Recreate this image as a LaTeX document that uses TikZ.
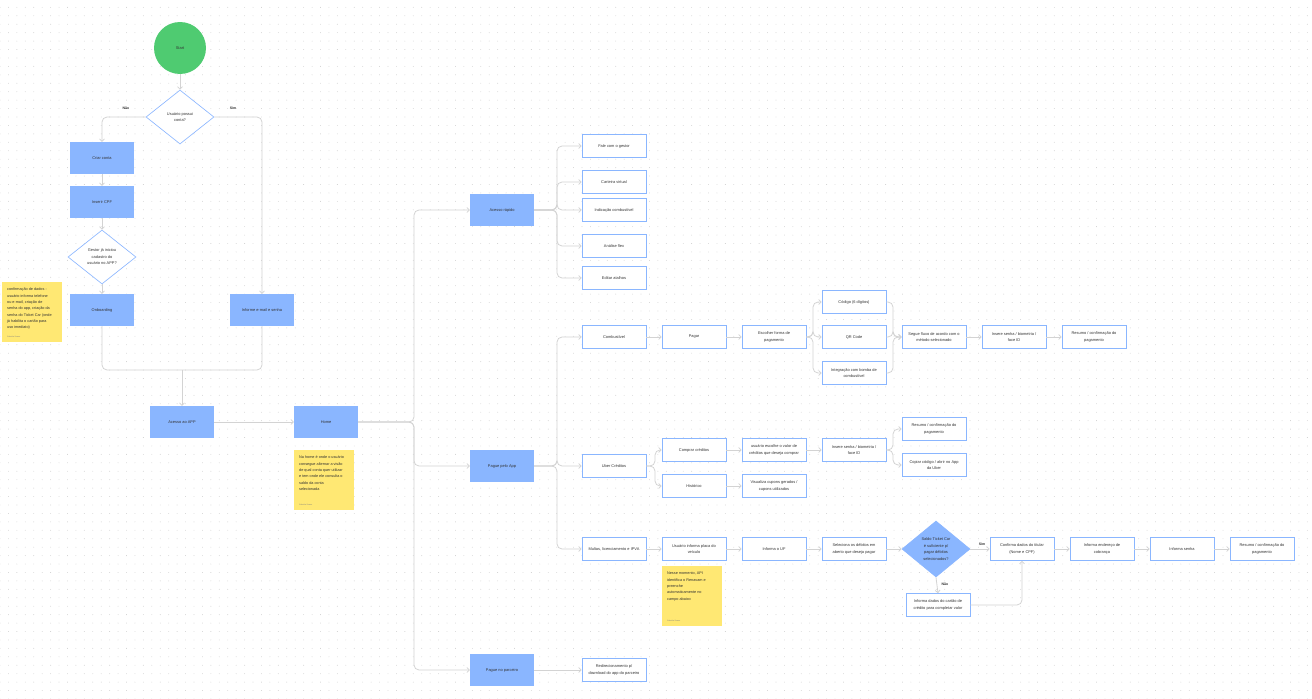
\documentclass[tikz,border=0pt]{standalone}
\usepackage{fontspec}
\setmainfont{Liberation Sans}
\usetikzlibrary{shapes.geometric,patterns.meta,arrows.meta}
\definecolor{boxblue}{HTML}{8AB6FF}
\definecolor{startgreen}{HTML}{4FCB71}
\definecolor{stickyyellow}{HTML}{FFE873}
\definecolor{conngray}{HTML}{D3D3D3}
\definecolor{txtgray}{HTML}{333333}
\tikzset{every node/.style={font=\fontsize{5.6}{9.2}\selectfont, text=txtgray, align=center}}
\tikzset{
  startnode/.style={circle, fill=startgreen, minimum size=2.6cm, inner sep=0},
  bigbox/.style={rectangle, fill=boxblue, minimum width=3.2cm, minimum height=1.6cm, inner sep=1pt},
  smallbox/.style={rectangle, draw=boxblue, fill=white, line width=0.9pt, minimum width=3.2cm, minimum height=1.15cm, inner sep=1pt},
  decision/.style={diamond, draw=boxblue, fill=white, line width=0.9pt, minimum width=3.4cm, minimum height=2.7cm, inner sep=0},
  sticky/.style={rectangle, fill=stickyyellow, minimum width=3cm, minimum height=3cm, anchor=north west, inner sep=0},
  notetext/.style={anchor=north west, align=left, inner sep=0, font=\fontsize{5.4}{9}\selectfont},
  noteauthor/.style={anchor=south west, inner sep=0, text=gray, font=\fontsize{2.6}{3}\selectfont},
  conn/.style={draw=conngray, line width=1.1pt, rounded corners=0.25cm},
  branchlabel/.style={font=\fontsize{5}{6}\selectfont\bfseries, inner sep=0}
}

\begin{document}
\begin{tikzpicture}[x=0.05cm, y=-0.05cm, >={Straight Barb[length=3.5pt,width=7pt]}]
  % fundo pontilhado
  \useasboundingbox (0,0) rectangle (1312,699);
  \fill[white] (0,0) rectangle (1312,699);
  \fill[pattern={Dots[distance=12pt, radius=0.6pt]}, pattern color=gray!40] (0,0) rectangle (1312,699);

  % cadastro
  \node[startnode] (start) at (180,48) {Start};
  \node[decision] (q1) at (180,117) {Usuário possui\\conta?};
  \node[bigbox] (criar) at (102,158) {Criar conta};
  \node[bigbox] (cpf) at (102,202) {Inserir CPF};
  \node[decision] (q2) at (102,257) {Gestor já iniciou\\cadastro do\\usuário no APP?};
  \node[bigbox] (onb) at (102,310) {Onboarding};
  \node[bigbox] (inf) at (262,310) {Informe e-mail e senha};
  \node[branchlabel] (nao1) at (126,108) {Não};
  \node[branchlabel] (sim1) at (233,108) {Sim};

  \node[sticky] (note1) at (2,282) {};
  \node[notetext] (note1txt) at ([shift={(5,6)}]note1.north west)
    {confirmação de dados -\\usuário informa telefone\\ou e-mail, criação de\\senha do app, criação da\\senha do Ticket Car (onde\\já habilita o cartão para\\uso imediato)};
  \node[noteauthor] (note1aut) at ([shift={(5,-5)}]note1.south west) {Gabriela Soares};

  \node[bigbox] (acesso) at (182,422) {Acesso ao APP};
  \node[bigbox] (home) at (326,422) {Home};
  \node[sticky] (note2) at (294,450) {};
  \node[notetext] (note2txt) at ([shift={(5,6)}]note2.north west)
    {Na home é onde o usuário\\consegue alternar a visão\\de qual conta quer utilizar\\e tem onde ele consulta o\\saldo da conta\\selecionada};
  \node[noteauthor] (note2aut) at ([shift={(5,-5)}]note2.south west) {Gabriela Soares};

  % menus da home
  \node[bigbox] (rapido) at (502,210) {Acesso rápido};
  \node[bigbox] (pelo) at (502,466) {Pague pelo App};
  \node[bigbox] (parceiro) at (502,670) {Pague no parceiro};

  \node[smallbox] (fale) at (614,146) {Fale com o gestor};
  \node[smallbox] (carteira) at (614,182) {Carteira virtual};
  \node[smallbox] (indic) at (614,210) {Indicação combustível};
  \node[smallbox] (analise) at (614,246) {Análise flex};
  \node[smallbox] (editar) at (614,278) {Editar atalhos};

  % combustivel
  \node[smallbox] (comb) at (614,337) {Combustível};
  \node[smallbox] (pagar) at (694,337) {Pagar};
  \node[smallbox] (escolher) at (774,337) {Escolher forma de\\pagamento};
  \node[smallbox] (codigo) at (854,302) {Código (6 dígitos)};
  \node[smallbox] (qr) at (854,337) {QR Code};
  \node[smallbox] (bomba) at (854,373) {Integração com bomba de\\combustível};
  \node[smallbox] (segue) at (934,337) {Segue fluxo de acordo com o\\método selecionado};
  \node[smallbox] (senhaA) at (1014,337) {Insere senha / biometria /\\face ID};
  \node[smallbox] (resumoA) at (1094,337) {Resumo / confirmação do\\pagamento};

  % uber
  \node[smallbox] (uber) at (614,466) {Uber Créditos};
  \node[smallbox] (comprar) at (694,450) {Comprar créditos};
  \node[smallbox] (hist) at (694,486) {Histórico};
  \node[smallbox] (valor) at (774,450) {usuário escolhe o valor de\\créditos que deseja comprar};
  \node[smallbox] (cupons) at (774,486) {Visualiza cupons gerados /\\cupons utilizados};
  \node[smallbox] (senhaB) at (854,450) {Insere senha / biometria /\\face ID};
  \node[smallbox] (resumoB) at (934,429) {Resumo / confirmação do\\pagamento};
  \node[smallbox] (copiar) at (934,465) {Copiar código / abrir no App\\da Uber};

  % multas
  \node[smallbox] (multas) at (614,549) {Multas, licenciamento e IPVA};
  \node[smallbox] (placa) at (694,549) {Usuário informa placa do\\veículo};
  \node[smallbox] (uf) at (774,549) {Informa o UF};
  \node[smallbox] (debitos) at (854,549) {Seleciona os débitos em\\aberto que deseja pagar};
  \node[decision, fill=boxblue, minimum height=2.8cm] (q3) at (936,549) {Saldo Ticket Car\\é suficiente p/\\pagar débitos\\selecionados?};
  \node[smallbox] (titular) at (1022,549) {Confirma dados do titular\\(Nome e CPF)};
  \node[smallbox] (endereco) at (1102,549) {Informa endereço de\\cobrança};
  \node[smallbox] (isenha) at (1182,549) {Informa senha};
  \node[smallbox] (resumoC) at (1262,549) {Resumo / confirmação do\\pagamento};
  \node[smallbox] (cartao) at (938,605) {Informa dados do cartão de\\crédito para completar valor};
  \node[branchlabel] (sim3) at (982,544) {Sim};
  \node[branchlabel] (nao3) at (945,584) {Não};

  \node[sticky] (note3) at (662,566) {};
  \node[notetext] (note3txt) at ([shift={(5,6)}]note3.north west)
    {Nesse momento, API\\identifica o Renavam e\\preenche\\automaticamente no\\campo abaixo};
  \node[noteauthor] (note3aut) at ([shift={(5,-5)}]note3.south west) {Gabriela Soares};

  \node[smallbox] (redir) at (614,670) {Redirecionamento p/\\download do app do parceiro};

  % pontos de ramificacao
  \coordinate (amerge) at (182,370);
  \coordinate (hsplit) at (414,422);
  \coordinate (rsplit) at (557,210);
  \coordinate (psplit) at (557,466);
  \coordinate (esplit) at (813,337);
  \coordinate (cmerge) at (893,337);
  \coordinate (usplit) at (655,466);
  \coordinate (ssplit) at (893,450);

  % conectores
  \draw[conn,->] (start) -- (q1);
  \draw[conn,->] (q1.west) -| (criar.north);
  \draw[conn,->] (q1.east) -| (inf.north);
  \draw[conn,->] (criar) -- (cpf);
  \draw[conn,->] (cpf) -- (q2);
  \draw[conn,->] (q2) -- (onb);
  \draw[conn] (onb.south) |- (amerge);
  \draw[conn] (inf.south) |- (amerge);
  \draw[conn,->] (amerge) -- (acesso.north);
  \draw[conn,->] (acesso) -- (home);

  \foreach \n in {rapido,pelo,parceiro}
    \draw[conn,->] (home.east) -- (hsplit) |- (\n.west);
  \foreach \n in {fale,carteira,indic,analise,editar}
    \draw[conn,->] (rapido.east) -- (rsplit) |- (\n.west);
  \foreach \n in {comb,uber,multas}
    \draw[conn,->] (pelo.east) -- (psplit) |- (\n.west);

  \draw[conn,->] (comb) -- (pagar);
  \draw[conn,->] (pagar) -- (escolher);
  \foreach \n in {codigo,qr,bomba}{
    \draw[conn,->] (escolher.east) -- (esplit) |- (\n.west);
    \draw[conn,->] (\n.east) -| (cmerge) -- (segue.west);
  }
  \draw[conn,->] (segue) -- (senhaA);
  \draw[conn,->] (senhaA) -- (resumoA);

  \foreach \n in {comprar,hist}
    \draw[conn,->] (uber.east) -- (usplit) |- (\n.west);
  \draw[conn,->] (comprar) -- (valor);
  \draw[conn,->] (hist) -- (cupons);
  \draw[conn,->] (valor) -- (senhaB);
  \foreach \n in {resumoB,copiar}
    \draw[conn,->] (senhaB.east) -- (ssplit) |- (\n.west);

  \draw[conn,->] (multas) -- (placa);
  \draw[conn,->] (placa) -- (uf);
  \draw[conn,->] (uf) -- (debitos);
  \draw[conn,->] (debitos) -- (q3);
  \draw[conn,->] (q3.east) -- (titular.west);
  \draw[conn,->] (q3.south) -- (cartao.north);
  \draw[conn,->] (cartao.east) -| (titular.south);
  \draw[conn,->] (titular) -- (endereco);
  \draw[conn,->] (endereco) -- (isenha);
  \draw[conn,->] (isenha) -- (resumoC);

  \draw[conn,->] (parceiro) -- (redir);
\end{tikzpicture}
\end{document}
